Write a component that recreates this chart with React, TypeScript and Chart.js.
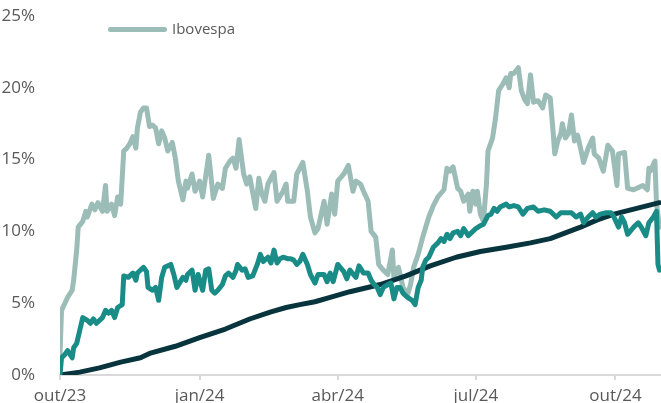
import { useEffect, useRef } from "react";
import { Chart, registerables } from "chart.js";

Chart.register(...registerables);

// x = days since 2023-10-01
const xTickDays = [0, 92, 183, 274, 366];
const xTickLabels = ["out/23", "jan/24", "abr/24", "jul/24", "out/24"];

const ibovDays = [
  0, 1, 5, 8, 9, 11, 12, 15, 17, 18,
  21, 23, 25, 28, 30, 31, 34, 36, 38, 40,
  42, 44, 46, 48, 50, 51, 53, 55, 57, 59,
  61, 63, 65, 67, 69, 71, 74, 76, 78, 81,
  83, 84, 87, 89, 92, 94, 98, 101, 104, 107,
  109, 112, 114, 116, 118, 121, 123, 125, 129, 131,
  133, 135, 137, 141, 143, 147, 149, 150, 154, 156,
  158, 160, 163, 165, 168, 170, 174, 176, 179, 181,
  183, 187, 190, 193, 195, 198, 200, 203, 205, 208,
  210, 213, 216, 219, 220, 223, 226, 229, 231, 233,
  236, 239, 241, 243, 246, 249, 253, 255, 257, 259,
  262, 264, 266, 269, 270, 272, 274, 275, 277, 279,
  281, 282, 285, 287, 289, 292, 294, 296, 297, 299,
  302, 304, 306, 308, 310, 312, 315, 318, 320, 323,
  325, 326, 328, 330, 331, 333, 335, 337, 339, 341,
  343, 345, 348, 351, 352, 355, 358, 361, 364, 367,
  368, 372, 374, 378, 384, 387, 388, 389, 392, 393,
  395,
];
const ibovValues = [
  1.5, 4.5, 5.4, 5.9, 6.6, 8.7, 10.3, 10.7, 11.4, 11.0,
  11.9, 11.5, 12.0, 11.4, 13.2, 11.4, 11.9, 11.1, 12.4, 11.9,
  15.6, 15.8, 16.1, 16.6, 15.8, 17.2, 18.3, 18.6, 18.6, 17.3,
  17.4, 17.2, 16.1, 17.0, 16.5, 15.6, 16.2, 15.1, 13.5, 12.2,
  13.5, 13.0, 14.0, 12.8, 13.5, 12.4, 15.3, 12.3, 13.3, 13.0,
  14.4, 14.9, 15.1, 14.4, 16.4, 14.0, 13.3, 13.8, 11.6, 13.7,
  12.6, 12.1, 13.3, 14.1, 12.1, 12.8, 13.3, 12.1, 12.1, 14.0,
  14.4, 14.8, 12.8, 11.0, 9.9, 10.2, 12.1, 10.5, 12.6, 11.2,
  13.5, 14.0, 14.6, 12.8, 13.5, 13.3, 12.8, 12.1, 10.0, 9.6,
  7.7, 7.3, 7.0, 8.7, 6.8, 7.5, 6.1, 5.6, 6.3, 7.5,
  8.4, 9.6, 10.3, 11.0, 11.8, 12.4, 12.9, 14.4, 14.2, 14.5,
  13.0, 12.8, 12.1, 12.6, 11.4, 12.8, 11.9, 12.8, 11.2, 10.7,
  13.3, 15.6, 16.5, 17.9, 19.8, 20.3, 20.7, 20.0, 21.0, 21.0,
  21.4, 19.8, 19.2, 18.9, 20.9, 19.0, 19.1, 18.6, 19.5, 19.3,
  16.8, 15.4, 16.3, 16.8, 17.5, 16.5, 16.8, 18.1, 16.3, 16.7,
  15.8, 14.8, 15.8, 16.5, 15.4, 15.1, 14.2, 16.0, 15.6, 13.2,
  15.4, 15.5, 13.0, 12.9, 13.2, 12.9, 14.4, 14.2, 14.9, 12.0,
  10.3,
];

const fundDays = [
  0, 1, 3, 5, 8, 9, 11, 13, 15, 18,
  20, 22, 24, 28, 30, 32, 34, 36, 38, 41,
  42, 45, 48, 50, 51, 55, 57, 58, 61, 63,
  65, 67, 69, 73, 75, 77, 81, 83, 84, 87,
  89, 91, 94, 96, 98, 100, 102, 104, 107, 109,
  111, 114, 116, 117, 120, 122, 124, 127, 130, 132,
  134, 137, 139, 141, 143, 145, 147, 150, 152, 154,
  156, 158, 160, 163, 165, 168, 170, 174, 176, 178,
  180, 183, 187, 189, 191, 195, 197, 200, 203, 205,
  207, 209, 211, 213, 216, 218, 220, 222, 224, 226,
  229, 232, 234, 236, 238, 239, 241, 243, 246, 249,
  251, 253, 255, 257, 259, 262, 264, 266, 269, 272,
  274, 277, 279, 282, 284, 286, 288, 290, 294, 296,
  299, 302, 305, 308, 312, 315, 319, 323, 327, 330,
  333, 337, 340, 343, 345, 348, 351, 353, 356, 360,
  363, 365, 368, 370, 372, 374, 378, 381, 383, 386,
  388, 391, 393, 394, 395,
];
const fundValues = [
  0.0, 1.2, 1.4, 1.7, 1.2, 1.9, 2.2, 3.1, 4.0, 3.8,
  3.6, 3.9, 3.6, 4.0, 4.5, 4.3, 4.5, 4.0, 4.7, 4.9,
  6.9, 6.8, 7.1, 6.6, 7.1, 7.5, 7.2, 6.1, 5.9, 6.1,
  5.2, 6.8, 7.5, 7.7, 7.0, 6.1, 6.8, 6.6, 7.0, 7.3,
  5.9, 7.0, 5.9, 7.3, 7.4, 5.9, 5.7, 5.9, 6.3, 6.9,
  7.1, 6.8, 7.3, 7.7, 7.3, 7.4, 6.8, 6.9, 7.7, 8.4,
  7.9, 8.2, 7.8, 8.7, 7.8, 8.1, 8.2, 8.1, 8.1, 8.0,
  7.7, 7.9, 8.4, 7.7, 7.0, 6.4, 7.0, 7.0, 6.5, 7.1,
  6.5, 7.7, 7.2, 6.7, 7.3, 6.8, 7.6, 7.1, 7.1, 6.6,
  6.3, 6.1, 5.6, 6.1, 6.3, 6.4, 5.3, 6.1, 6.1, 5.7,
  5.4, 5.2, 4.9, 6.1, 6.6, 7.5, 8.0, 8.2, 8.9, 9.2,
  9.5, 9.3, 9.8, 9.5, 9.9, 10.0, 9.7, 10.2, 9.7, 10.0,
  10.2, 10.4, 10.5, 11.1, 11.2, 11.6, 11.4, 11.7, 11.9, 11.7,
  11.8, 11.7, 11.2, 11.6, 11.7, 11.4, 11.5, 11.4, 11.0, 11.3,
  11.3, 11.3, 11.0, 11.2, 10.6, 11.0, 11.3, 11.0, 11.2, 11.3,
  11.3, 11.0, 10.3, 11.0, 10.6, 9.8, 10.3, 10.6, 10.3, 9.7,
  10.6, 11.0, 11.4, 7.7, 7.3,
];

const cdiDays = [
  0, 13, 26, 40, 53, 59, 76, 92, 109, 125,
  139, 149, 158, 168, 178, 191, 211, 228, 244, 261,
  277, 294, 310, 323, 333, 343, 354, 365, 380, 395,
];
const cdiValues = [
  0.0, 0.2, 0.5, 0.9, 1.2, 1.5, 2.0, 2.6, 3.2, 3.9,
  4.4, 4.7, 4.9, 5.1, 5.4, 5.8, 6.3, 6.9, 7.6, 8.2,
  8.6, 8.9, 9.2, 9.5, 9.9, 10.3, 10.8, 11.2, 11.6, 12.0,
];

const toPoints = (days: number[], vals: number[]) =>
  days.map((d, i) => ({ x: d, y: vals[i] }));

const FONT = "'Open Sans', sans-serif";
const TEXT = "#595959";

export default function App() {
  const ref = useRef<HTMLCanvasElement>(null);

  useEffect(() => {
    if (!ref.current) return;
    const legendShift = {
      id: "legendShift",
      beforeDraw(chart: any) {
        const lg = chart.legend;
        if (lg) {
          lg.left = 100.5;
          lg.top = 12;
        }
      },
    };
    const lineBase = {
      pointRadius: 0,
      pointHoverRadius: 0,
      borderWidth: 5,
      tension: 0,
      borderJoinStyle: "round" as const,
      borderCapStyle: "round" as const,
      fill: false,
    };
    const chart = new Chart(ref.current, {
      type: "line",
      data: {
        datasets: [
          {
            ...lineBase,
            label: "Fundo",
            data: toPoints(fundDays, fundValues),
            borderColor: "#1a8c87",
            backgroundColor: "#1a8c87",
          },
          {
            ...lineBase,
            label: "CDI",
            data: toPoints(cdiDays, cdiValues),
            borderColor: "#07343d",
            backgroundColor: "#07343d",
          },
          {
            ...lineBase,
            label: "Ibovespa",
            data: toPoints(ibovDays, ibovValues),
            borderColor: "#9bbcb7",
            backgroundColor: "#9bbcb7",
          },
        ],
      },
      options: {
        animation: false,
        responsive: false,
        devicePixelRatio: 1,
        layout: { padding: { left: 0, top: 16, right: 0, bottom: 0 } },
        scales: {
          x: {
            type: "linear",
            min: 0,
            max: 396,
            afterBuildTicks: (scale: any) => {
              scale.ticks = xTickDays.map((v) => ({ value: v }));
            },
            afterFit: (scale: any) => {
              scale.height = 28;
              scale.paddingLeft = 0;
              scale.paddingRight = 0;
            },
            ticks: {
              autoSkip: false,
              maxRotation: 0,
              padding: 6,
              color: TEXT,
              font: { family: FONT, size: 17 },
              callback: (_v: any, i: number) => xTickLabels[i],
            },
            grid: {
              display: true,
              drawOnChartArea: false,
              drawTicks: true,
              tickLength: 5,
              color: "#d9d9d9",
              lineWidth: 2,
            },
            border: { display: true, color: "#d9d9d9", width: 2 },
          },
          y: {
            min: 0,
            max: 25,
            afterFit: (scale: any) => {
              scale.width = 60;
              scale.paddingTop = 0;
              scale.paddingBottom = 0;
            },
            ticks: {
              stepSize: 5,
              padding: 17,
              color: TEXT,
              font: { family: FONT, size: 17 },
              callback: (v: any) => v + "%",
            },
            grid: { display: false },
            border: { display: false },
          },
        },
        plugins: {
          legend: {
            position: "chartArea",
            align: "start",
            labels: {
              usePointStyle: true,
              pointStyle: "line",
              pointStyleWidth: 54,
              padding: 10,
              color: TEXT,
              font: { family: FONT, size: 15 },
              generateLabels: (chart: any) =>
                Chart.defaults.plugins.legend.labels
                  .generateLabels(chart)
                  .filter((l: any) => l.text === "Ibovespa")
                  .map((l: any) => ({
                    ...l,
                    lineWidth: 5,
                    lineCap: "round",
                    strokeStyle: "#9bbcb7",
                    fillStyle: "#9bbcb7",
                  })),
            },
          },
          tooltip: { enabled: false },
        },
      } as any,
      plugins: [legendShift],
    });
    return () => chart.destroy();
  }, []);

  return (
    <div style={{ position: "absolute", left: 0, top: 0, width: 661, height: 403, background: "#fff" }}>
      <canvas ref={ref} width={661} height={403} style={{ display: "block" }} />
    </div>
  );
}
